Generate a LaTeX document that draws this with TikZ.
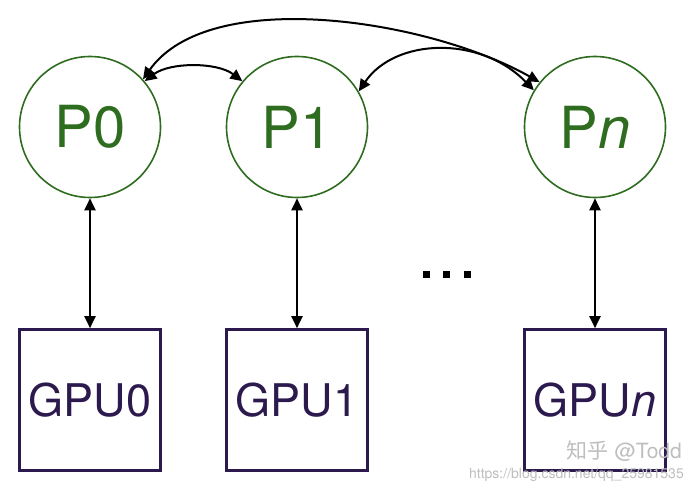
\documentclass[tikz,border=0pt]{standalone}
\usepackage{fontspec}
\setmainfont{TeX Gyre Heros}
\newfontfamily\cjkfont{Noto Sans CJK SC}
\usetikzlibrary{arrows.meta}
\definecolor{pgreen}{RGB}{46,108,32}
\definecolor{gpurple}{RGB}{44,26,78}
\definecolor{wmark}{RGB}{190,190,190}
\tikzset{
  proc/.style={circle, draw=pgreen, line width=1.6pt, minimum size=141pt, inner sep=0pt,
    text=pgreen, font=\fontsize{58}{60}\selectfont},
  gpubox/.style={rectangle, draw=gpurple, line width=2.6pt, minimum size=141pt, inner sep=0pt,
    text=gpurple, font=\fontsize{45}{47}\selectfont},
  link/.style={line width=2pt, {Triangle[length=12pt,width=11pt]}-{Triangle[length=12pt,width=11pt]}},
  dotsq/.style={fill=black, minimum size=7pt, inner sep=0pt, rectangle},
  wm/.style={text=wmark, inner sep=0pt}
}
\begin{document}
\begin{tikzpicture}[x=1pt,y=1pt]
\useasboundingbox (0,0) rectangle (689,490);
\fill[white] (0,0) rectangle (689,490);

\node[proc] (P0) at (90,363) {P0};
\node[proc] (P1) at (297,363) {P1};
\node[proc] (Pn) at (595,363) {P\textit{n}};

\node[gpubox] (G0) at (90,90) {GPU0};
\node[gpubox] (G1) at (297,90) {GPU1};
\node[gpubox] (Gn) at (595,90) {GPU\textit{n}};

\node[dotsq] (d1) at (426,215) {};
\node[dotsq] (d2) at (446,215) {};
\node[dotsq] (d3) at (467,215) {};

\draw[link] (P0.south) -- (G0.north);
\draw[link] (P1.south) -- (G1.north);
\draw[link] (Pn.south) -- (Gn.north);

\draw[link] (P0.40) .. controls (170,428) and (217,428) .. (P1.140);
\draw[link] (P0.42) .. controls (210,505) and (430,470) .. (Pn.141);
\draw[link] (P1.30) .. controls (395,452) and (480,455) .. (Pn.149);

\node[wm, anchor=east, font=\fontsize{21}{22}\selectfont] (wm1) at (682,39) {{\cjkfont 知乎} @Todd};
\node[wm, anchor=east, font=\fontsize{14}{15}\selectfont] (wm2) at (684,15) {https://blog.csdn.net/qq\_25981535};
\end{tikzpicture}
\end{document}
